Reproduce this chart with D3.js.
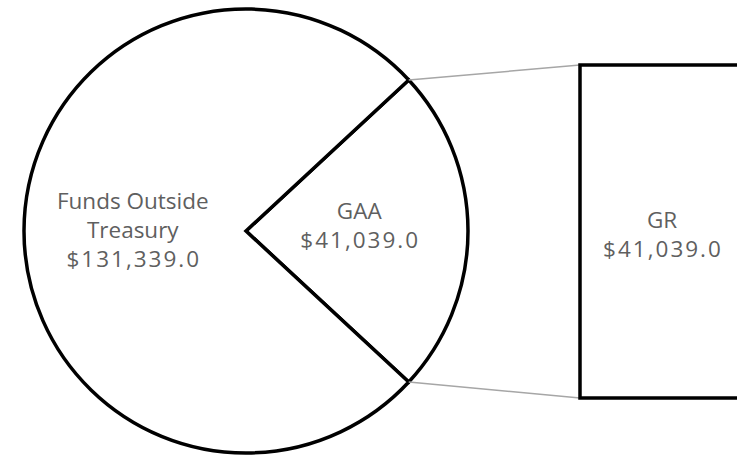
<!DOCTYPE html>
<html>
<head>
<meta charset="utf-8">
<script src="https://cdn.jsdelivr.net/npm/d3@7"></script>
<style>
  html, body { margin: 0; padding: 0; background: #fff; }
  svg { display: block; }
</style>
</head>
<body>
<svg id="chart" width="737" height="455"></svg>
<script>
// ---- data ----
const pieCategories = ["GAA", "Funds Outside Treasury"];
const pieValues = [41039.0, 131339.0];
const barCategories = ["GR"];
const barValues = [41039.0];
const splitCategory = "GAA";

const fmt = v => "$" + d3.format(",.1f")(v);

// ---- layout ----
const W = 737, H = 455;
const cx = 246, cy = 231, R = 222;
const barX = 580, barW = 260, barTop = 65, barBottom = 398;
const textColor = "#5f5f5f";
const fontFamily = "'Open Sans', Lato, sans-serif";
const fontSize = 22.5;
const lineH = 29;

const svg = d3.select("#chart");

const total = d3.sum(pieValues);
const splitIdx = pieCategories.indexOf(splitCategory);
const splitAngle = 2 * Math.PI * pieValues[splitIdx] / total;
const start = Math.PI / 2 - splitAngle / 2;

const pie = d3.pie().sort(null).value(d => d.value)
  .startAngle(start).endAngle(start + 2 * Math.PI);
const arcs = pie(pieCategories.map((c, i) => ({ cat: c, value: pieValues[i] })));

const arc = d3.arc().innerRadius(0).outerRadius(R);
const labelArc = d3.arc().innerRadius(R * 0.51).outerRadius(R * 0.51);

const g = svg.append("g").attr("transform", `translate(${cx},${cy})`);

// bar scale
const y = d3.scaleLinear().domain([0, d3.sum(barValues)]).range([barBottom, barTop]);
let acc = 0;
const barData = barCategories.map((c, i) => {
  const d = { cat: c, value: barValues[i], y0: acc, y1: acc + barValues[i] };
  acc += barValues[i];
  return d;
});

// connector lines
const sArc = arcs[splitIdx];
const pt = a => [cx + R * Math.sin(a), cy - R * Math.cos(a)];
const pTop = pt(sArc.startAngle);
const pBot = pt(sArc.endAngle);
svg.append("line")
  .attr("x1", pTop[0]).attr("y1", pTop[1])
  .attr("x2", barX).attr("y2", y(d3.sum(barValues)))
  .attr("stroke", "#a6a6a6").attr("stroke-width", 1.5);
svg.append("line")
  .attr("x1", pBot[0]).attr("y1", pBot[1])
  .attr("x2", barX).attr("y2", y(0))
  .attr("stroke", "#a6a6a6").attr("stroke-width", 1.5);

// pie slices
g.selectAll("path.slice").data(arcs).join("path")
  .attr("class", "slice")
  .attr("d", arc)
  .attr("fill", "#ffffff")
  .attr("stroke", "#000")
  .attr("stroke-width", 3.5)
  .attr("stroke-linejoin", "miter");

// bar
svg.selectAll("rect.bar").data(barData).join("rect")
  .attr("class", "bar")
  .attr("x", barX)
  .attr("y", d => y(d.y1))
  .attr("width", barW)
  .attr("height", d => y(d.y0) - y(d.y1))
  .attr("fill", "#fff")
  .attr("stroke", "#000")
  .attr("stroke-width", 3.5);

// label helper (last line is the value, drawn with wider digit spacing)
function addLabel(parent, x, yFirst, lines) {
  const t = parent.append("text")
    .attr("x", x).attr("y", yFirst)
    .attr("text-anchor", "middle")
    .attr("fill", textColor)
    .style("font-family", fontFamily)
    .style("font-size", fontSize + "px");
  lines.forEach((l, i) => {
    const ts = t.append("tspan").attr("x", x + (i === lines.length - 1 ? 1 : 0))
      .attr("dy", i === 0 ? 0 : lineH).text(l);
    if (i === lines.length - 1) ts.style("letter-spacing", "2px");
  });
}

// pie labels
const pieLabelLines = {
  "Funds Outside Treasury": ["Funds Outside", "Treasury"],
  "GAA": ["GAA"]
};
const pieLabelShift = { "Funds Outside Treasury": 7, "GAA": 2.5 };
arcs.forEach(a => {
  const c = labelArc.centroid(a);
  const lines = (pieLabelLines[a.data.cat] || [a.data.cat]).concat([fmt(a.data.value)]);
  const first = c[1] - (lines.length - 1) * lineH / 2 + pieLabelShift[a.data.cat];
  addLabel(g, c[0], first, lines);
});

// bar labels
barData.forEach(d => {
  const mid = (y(d.y0) + y(d.y1)) / 2;
  const lines = [d.cat, fmt(d.value)];
  addLabel(svg, 662, mid - (lines.length - 1) * lineH / 2 + 11, lines);
});
</script>
</body>
</html>
